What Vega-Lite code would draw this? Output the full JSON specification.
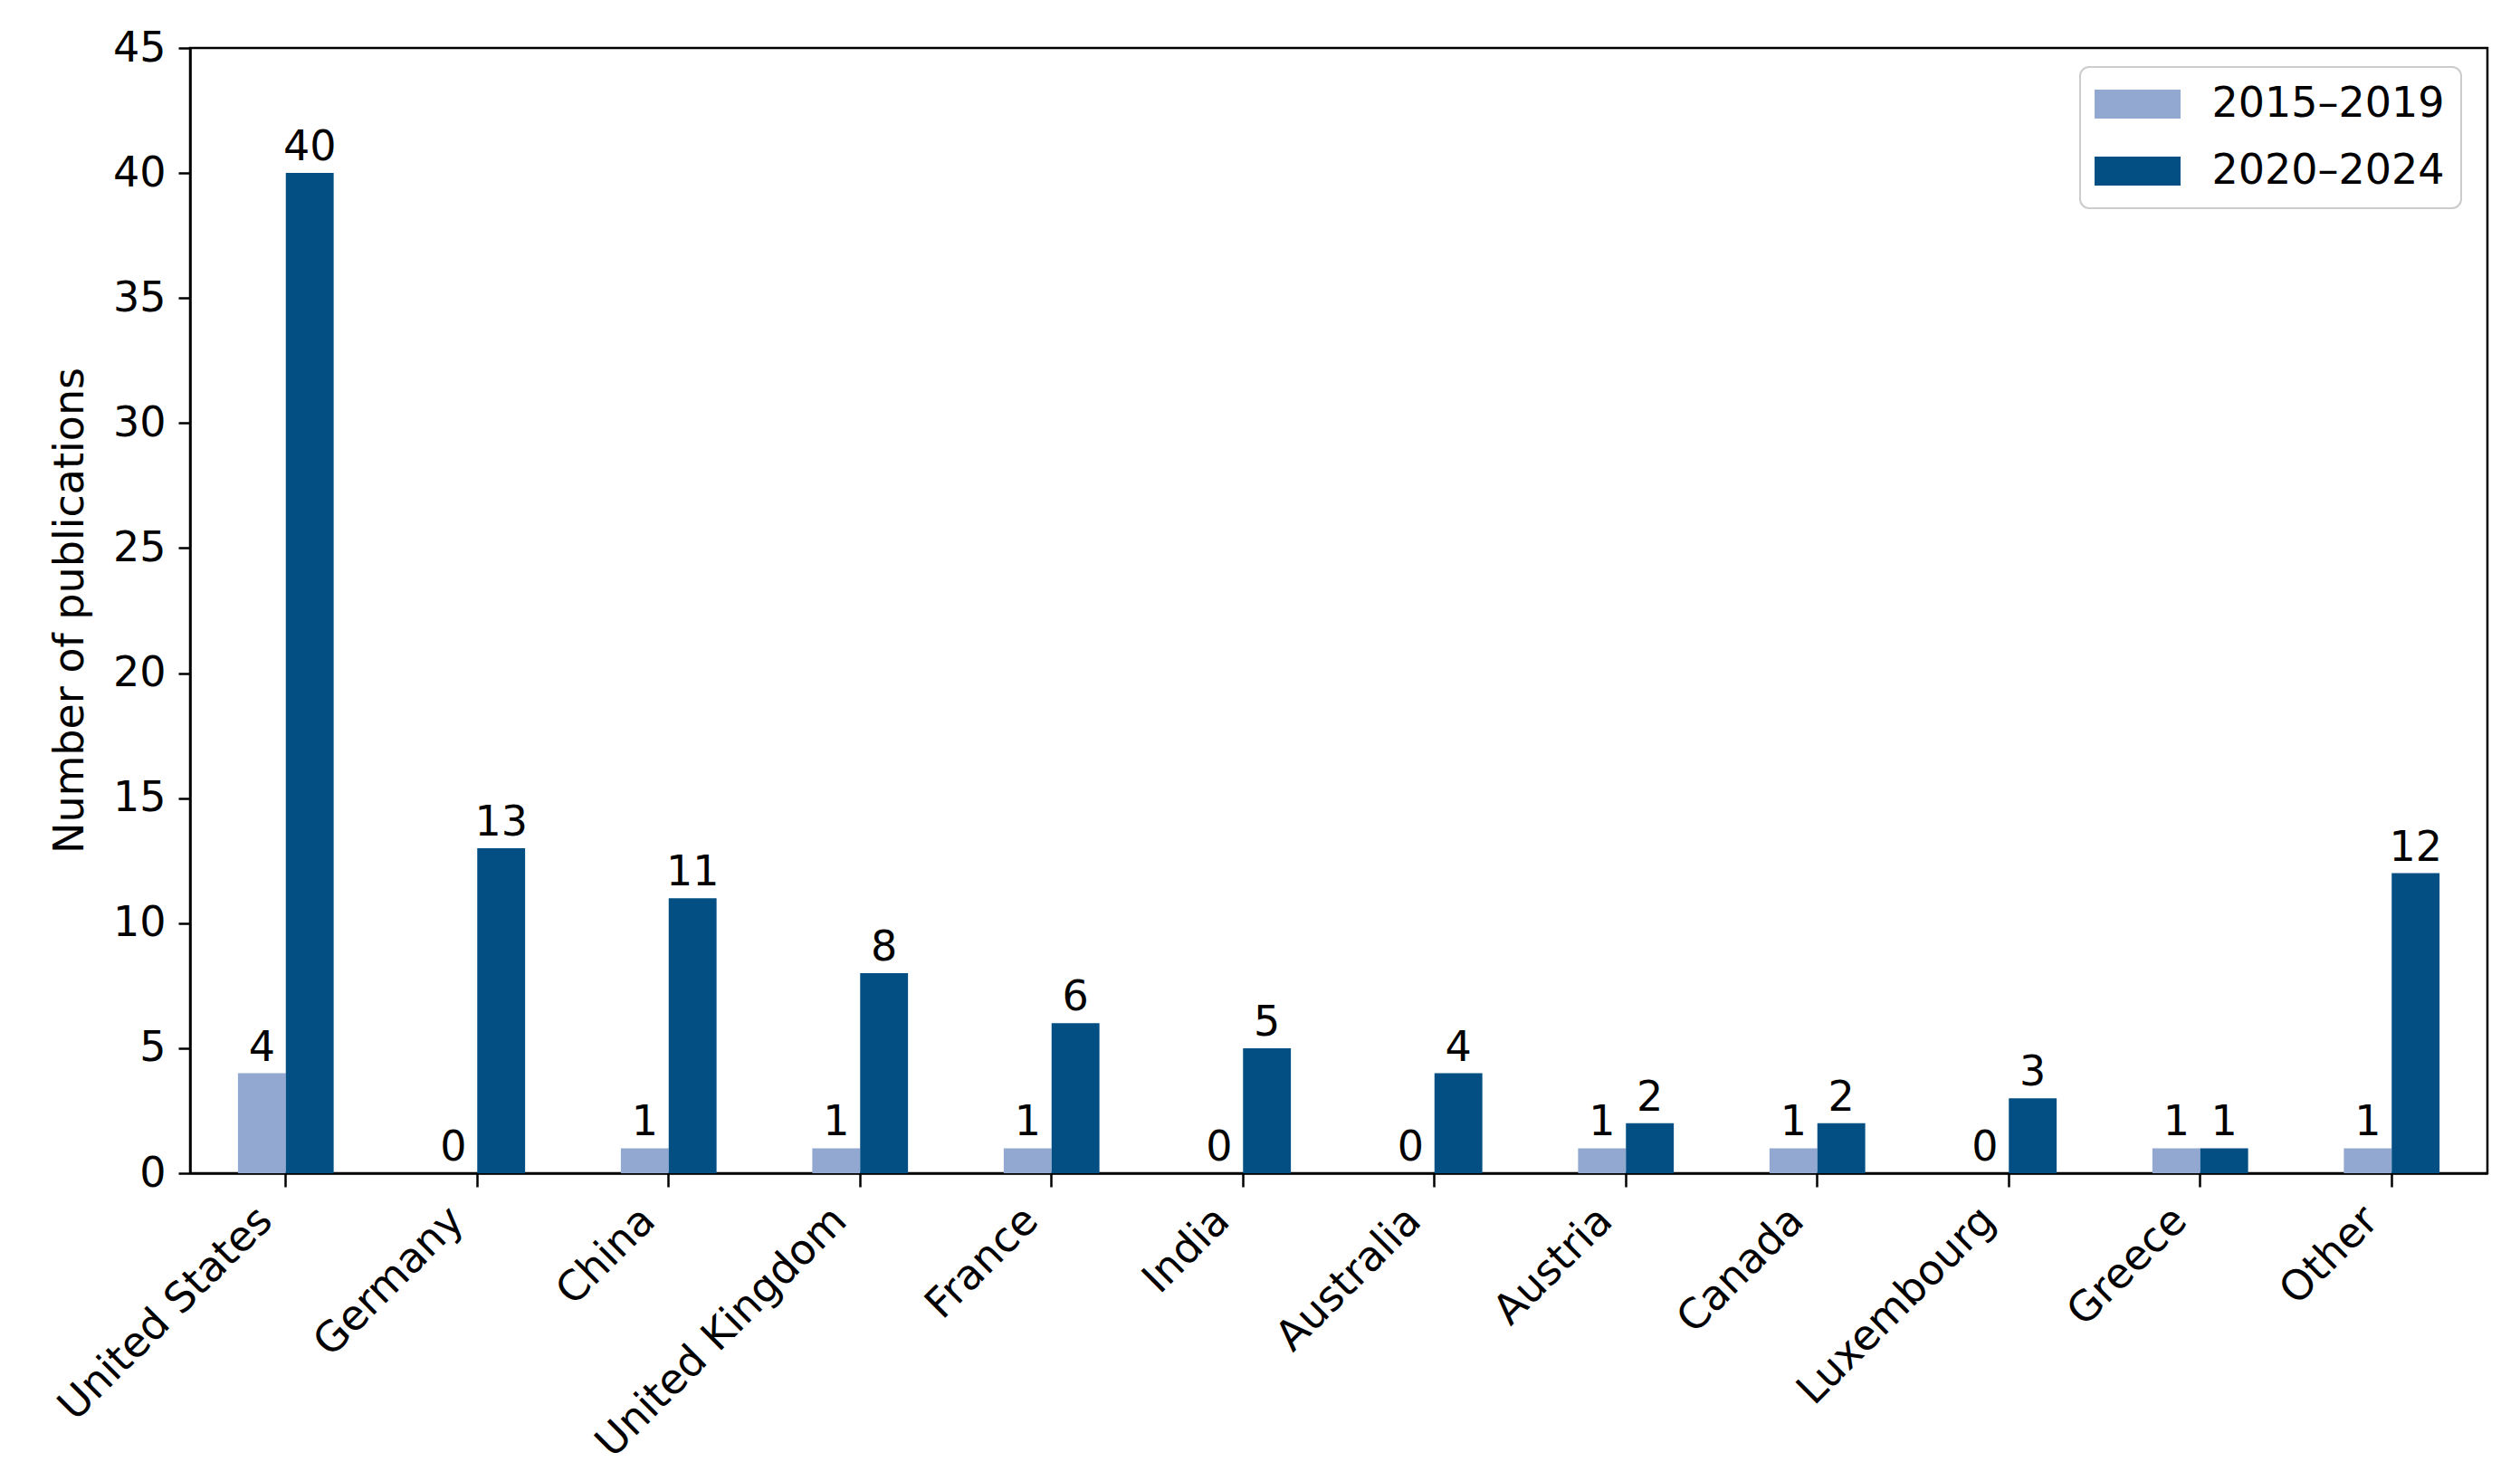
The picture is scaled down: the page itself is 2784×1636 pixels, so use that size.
{
  "$schema": "https://vega.github.io/schema/vega-lite/v6.json",
  "width": 2538,
  "height": 1243,
  "autosize": {"type": "none"},
  "padding": {"left": 210, "top": 53, "right": 36, "bottom": 340},
  "background": "white",
  "config": {
    "font": "DejaVu Sans",
    "view": {"stroke": "black", "strokeWidth": 2.5},
    "axis": {
      "domainColor": "black",
      "domainWidth": 2.5,
      "tickColor": "black",
      "tickWidth": 2.5,
      "labelColor": "black",
      "titleColor": "black",
      "labelFontSize": 46,
      "titleFontSize": 46,
      "titleFontWeight": "normal",
      "labelLimit": 0,
      "grid": false
    },
    "legend": {
      "orient": "none",
      "legendX": 2088,
      "legendY": 21,
      "symbolType": "M-2.065,-0.696H2.065V0.696H-2.065Z",
      "symbolSize": 2116,
      "symbolStrokeWidth": 0,
      "symbolOpacity": 1,
      "symbolOffset": 22.5,
      "labelFontSize": 46,
      "labelColor": "black",
      "labelOffset": 59,
      "labelLimit": 0,
      "padding": 18,
      "rowPadding": 28,
      "strokeColor": "#cccccc",
      "strokeWidth": 2,
      "cornerRadius": 10,
      "fillColor": "white"
    }
  },
  "data": {
    "values": [
      {"country": "United States", "period": "2015–2019", "count": 4},
      {"country": "United States", "period": "2020–2024", "count": 40},
      {"country": "Germany", "period": "2015–2019", "count": 0},
      {"country": "Germany", "period": "2020–2024", "count": 13},
      {"country": "China", "period": "2015–2019", "count": 1},
      {"country": "China", "period": "2020–2024", "count": 11},
      {"country": "United Kingdom", "period": "2015–2019", "count": 1},
      {"country": "United Kingdom", "period": "2020–2024", "count": 8},
      {"country": "France", "period": "2015–2019", "count": 1},
      {"country": "France", "period": "2020–2024", "count": 6},
      {"country": "India", "period": "2015–2019", "count": 0},
      {"country": "India", "period": "2020–2024", "count": 5},
      {"country": "Australia", "period": "2015–2019", "count": 0},
      {"country": "Australia", "period": "2020–2024", "count": 4},
      {"country": "Austria", "period": "2015–2019", "count": 1},
      {"country": "Austria", "period": "2020–2024", "count": 2},
      {"country": "Canada", "period": "2015–2019", "count": 1},
      {"country": "Canada", "period": "2020–2024", "count": 2},
      {"country": "Luxembourg", "period": "2015–2019", "count": 0},
      {"country": "Luxembourg", "period": "2020–2024", "count": 3},
      {"country": "Greece", "period": "2015–2019", "count": 1},
      {"country": "Greece", "period": "2020–2024", "count": 1},
      {"country": "Other", "period": "2015–2019", "count": 1},
      {"country": "Other", "period": "2020–2024", "count": 12}
    ]
  },
  "encoding": {
    "x": {
      "field": "country",
      "type": "nominal",
      "sort": null,
      "scale": {"paddingInner": 0.5, "paddingOuter": 0.25},
      "axis": {
        "title": null,
        "labelAngle": -45,
        "labelAlign": "right",
        "labelBaseline": "top",
        "tickSize": 15,
        "labelPadding": 14,
        "labelOffset": -38
      }
    },
    "xOffset": {
      "field": "period",
      "type": "nominal",
      "sort": ["2015–2019", "2020–2024"],
      "scale": {"paddingInner": 0, "paddingOuter": 0}
    },
    "y": {
      "field": "count",
      "type": "quantitative",
      "scale": {"domain": [0, 45], "nice": false},
      "axis": {
        "title": "Number of publications",
        "values": [0, 5, 10, 15, 20, 25, 30, 35, 40, 45],
        "tickSize": 13,
        "labelPadding": 14,
        "titleX": -133,
        "titleY": 621,
        "titleAlign": "center",
        "titleBaseline": "middle",
        "titleAngle": -90
      }
    }
  },
  "layer": [
    {
      "mark": {"type": "bar"},
      "encoding": {
        "color": {
          "field": "period",
          "type": "nominal",
          "sort": ["2015–2019", "2020–2024"],
          "scale": {"domain": ["2015–2019", "2020–2024"], "range": ["#92A8D1", "#034F84"]},
          "legend": {"title": null}
        }
      }
    },
    {
      "mark": {"type": "text", "baseline": "alphabetic", "dy": -14, "fontSize": 46, "color": "black"},
      "encoding": {
        "text": {"field": "count", "type": "quantitative"}
      }
    }
  ]
}
